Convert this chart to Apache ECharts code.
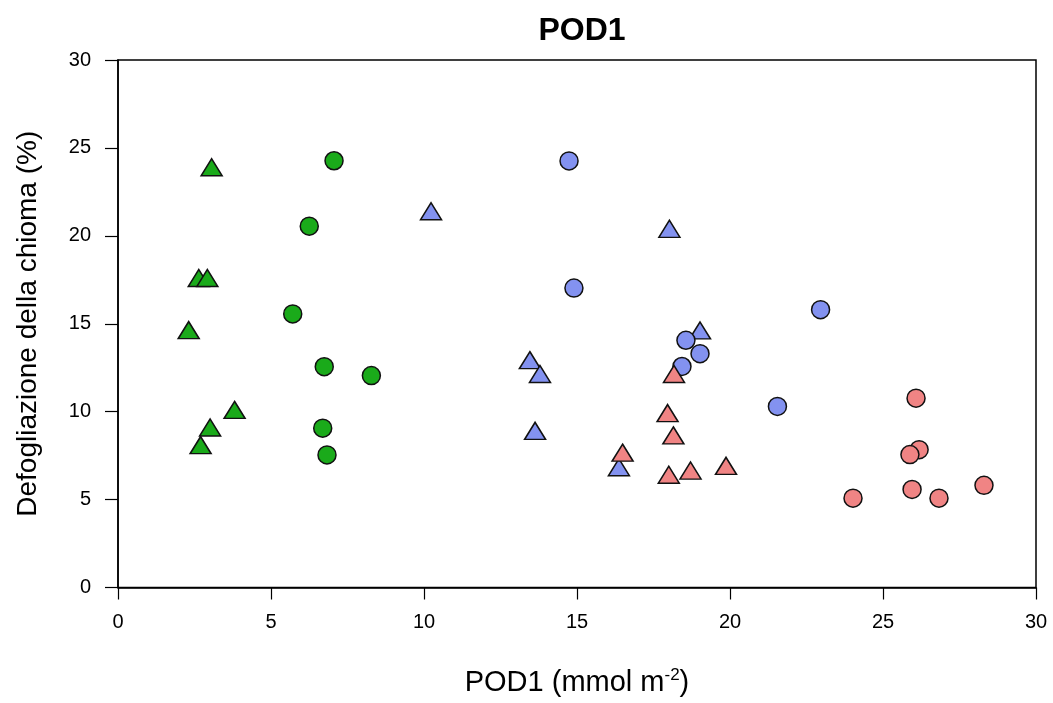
<!DOCTYPE html>
<html>
<head>
<meta charset="utf-8">
<title>POD1</title>
<script src="https://cdn.jsdelivr.net/npm/echarts@6/dist/echarts.min.js"></script>
<style>
    html, body { margin: 0; padding: 0; background: #fff; overflow: hidden; }
    #chart { width: 1053px; height: 703px; }
</style>
</head>
<body>
<div id="chart"></div>
<script>
// dati: [POD1, defogliazione]
let greenTriangles = [[3.06, 23.9], [2.64, 17.6], [2.92, 17.6], [2.31, 14.64], [3.81, 10.1], [3.01, 9.1], [2.7, 8.1]]
let greenCircles = [[7.06, 24.27], [6.25, 20.55], [5.71, 15.56], [6.74, 12.56], [8.28, 12.05], [6.69, 9.06], [6.83, 7.54]]
let blueTriangles = [[10.23, 21.4], [18.02, 20.4], [19.02, 14.62], [13.46, 12.93], [13.79, 12.14], [13.63, 8.91], [16.37, 6.84]]
let blueCircles = [[14.74, 24.26], [14.9, 17.03], [22.96, 15.8], [18.56, 14.06], [19.02, 13.3], [18.43, 12.57], [21.55, 10.3]]
let redTriangles = [[18.17, 12.14], [17.96, 9.92], [18.15, 8.65], [16.49, 7.67], [18.0, 6.41], [18.71, 6.65], [19.87, 6.92]]
let redCircles = [[26.08, 10.77], [26.18, 7.84], [25.88, 7.56], [24.02, 5.08], [25.95, 5.58], [26.83, 5.08], [28.3, 5.81]]

let xTicks = [0, 5, 10, 15, 20, 25, 30]
let yTicks = [0, 5, 10, 15, 20, 25, 30]

let green = '#1aaa1a'
let blue = '#8392f0'
let red = '#f08484'
let font = 'Liberation Sans, Arial, sans-serif'

function makeSeries(data, symbol, color) {
    return {
        type: 'scatter',
        data: data,
        symbol: symbol,
        symbolSize: symbol == 'triangle' ? [21, 17] : 18,
        itemStyle: {
            color: color,
            borderColor: '#111',
            borderWidth: 1.5,
            opacity: 1
        },
        emphasis: { disabled: true }
    }
}

let myChart = echarts.init(document.getElementById('chart'))

let option = {
    animation: false,
    backgroundColor: '#fff',
    textStyle: { fontFamily: font },
    // titolo centrato sull'area del grafico, non sulla pagina
    title: {
        text: 'POD1',
        left: 577,
        textAlign: 'center',
        top: 10,
        textStyle: { fontSize: 32, fontWeight: 'bold', color: '#000', fontFamily: font }
    },
    grid: {
        left: 118,
        right: 17,
        top: 60,
        height: 532,
        show: true,
        borderColor: '#000',
        borderWidth: 1.5
    },
    xAxis: {
        type: 'value',
        min: xTicks[0],
        max: xTicks[xTicks.length - 1],
        interval: 5,
        splitLine: { show: false },
        axisLine: { lineStyle: { color: '#000', width: 1.5 } },
        axisTick: { inside: false, length: 12, lineStyle: { color: '#000', width: 1.2 } },
        axisLabel: { color: '#000', fontSize: 20, margin: 25 },
        name: '{a|POD1 (mmol m}{s|-2}{a|)}',
        nameLocation: 'middle',
        nameGap: 80,
        nameTextStyle: {
            rich: {
                a: { fontSize: 29, color: '#000', fontFamily: font, lineHeight: 30 },
                s: { fontSize: 17, color: '#000', fontFamily: font, lineHeight: 30, padding: [0, 0, 14, 0] }
            }
        }
    },
    yAxis: {
        type: 'value',
        min: yTicks[0],
        max: yTicks[yTicks.length - 1],
        interval: 5,
        splitLine: { show: false },
        axisLine: { lineStyle: { color: '#000', width: 1.5 } },
        axisTick: { inside: false, length: 13, lineStyle: { color: '#000', width: 1.2 } },
        axisLabel: { color: '#000', fontSize: 20, margin: 27 },
        name: 'Defogliazione della chioma (%)',
        nameLocation: 'middle',
        nameGap: 76,
        nameTextStyle: { fontSize: 28, color: '#000' }
    },
    series: [
        makeSeries(greenTriangles, 'triangle', green),
        makeSeries(greenCircles, 'circle', green),
        makeSeries(blueTriangles, 'triangle', blue),
        makeSeries(blueCircles, 'circle', blue),
        makeSeries(redTriangles, 'triangle', red),
        makeSeries(redCircles, 'circle', red)
    ]
}

myChart.setOption(option)
</script>
</body>
</html>
